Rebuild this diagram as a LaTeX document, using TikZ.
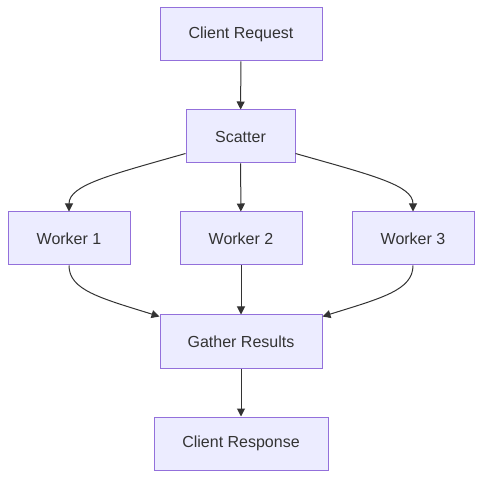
\documentclass[tikz,border=0pt]{standalone}
\usepackage{fontspec}
\setmainfont{Liberation Sans}
\usetikzlibrary{arrows.meta,calc}
\definecolor{nodefill}{HTML}{ECECFF}
\definecolor{nodeline}{HTML}{9370DB}
\definecolor{ink}{HTML}{333333}
\tikzset{
  box/.style={draw=nodeline, fill=nodefill, line width=1pt, text=ink,
    font=\fontsize{16}{19}\selectfont, inner sep=0pt, anchor=center},
  link/.style={draw=ink, line width=1pt, -{Triangle[length=8pt,width=8pt]}}
}
\begin{document}
\begin{tikzpicture}[x=1pt,y=-1pt]
\useasboundingbox (0,0) rectangle (490,486);
\node[box, minimum width=162pt, minimum height=53pt] (cr) at (241,34.5) {Client Request};
\node[box, minimum width=109pt, minimum height=53pt] (s) at (240.5,136.5) {Scatter};
\node[box, minimum width=122pt, minimum height=53pt] (w1) at (69,238.5) {Worker 1};
\node[box, minimum width=122pt, minimum height=53pt] (w2) at (241,238.5) {Worker 2};
\node[box, minimum width=122pt, minimum height=53pt] (w3) at (413,238.5) {Worker 3};
\node[box, minimum width=162pt, minimum height=53pt] (g) at (241,341.5) {Gather Results};
\node[box, minimum width=174pt, minimum height=53pt] (resp) at (241,443.5) {Client Response};

\draw[link] (cr) -- (s);
\draw[link] (s) -- (w2);
\draw[link] ([yshift=10pt]s.south west) .. controls (110,175) and (69,185) .. (w1.north);
\draw[link] ([yshift=10pt]s.south east) .. controls (371,175) and (413,185) .. (w3.north);
\draw[link] (w1.south) .. controls (69,290) and (100,298) .. ([yshift=-2pt]g.north west);
\draw[link] (w3.south) .. controls (413,290) and (382,298) .. ([yshift=-2pt]g.north east);
\draw[link] (w2) -- (g);
\draw[link] (g) -- (resp);
\end{tikzpicture}
\end{document}
